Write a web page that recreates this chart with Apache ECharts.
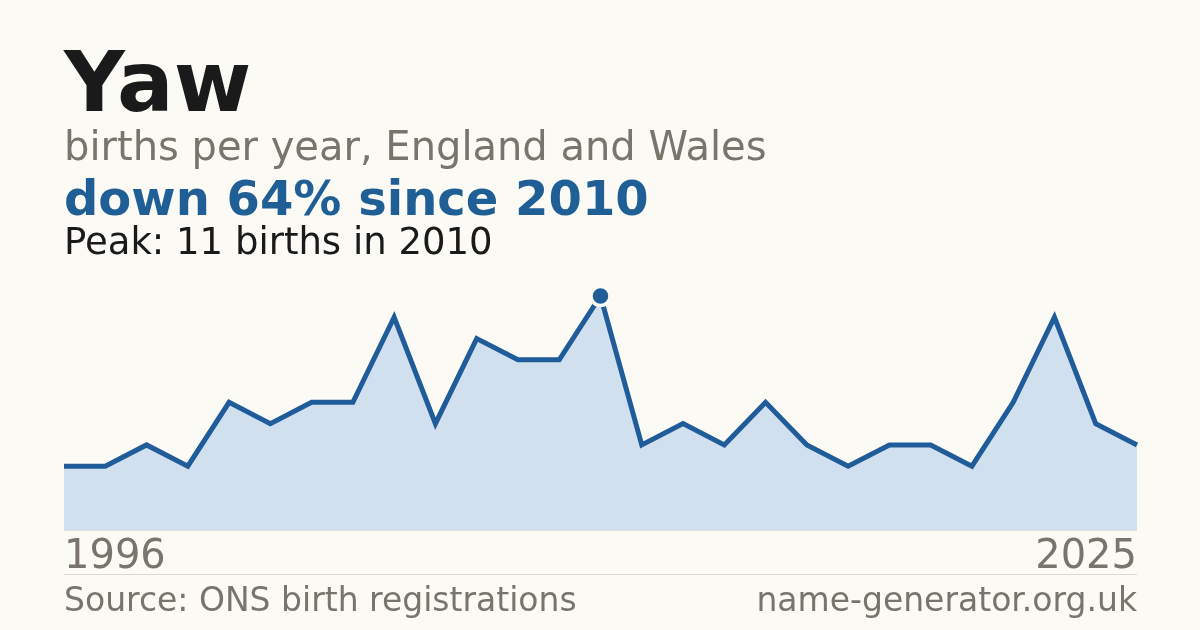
<!DOCTYPE html>
<html>
<head>
<meta charset="utf-8">
<script src="https://cdn.jsdelivr.net/npm/echarts@6/dist/echarts.min.js"></script>
<style>
  html, body { margin: 0; padding: 0; background: #fbfaf5; }
  #chart { width: 1200px; height: 630px; }
</style>
</head>
<body>
<div id="chart"></div>
<script>
const years = ['1996', '1997', '1998', '1999', '2000', '2001', '2003', '2004', '2005', '2006', '2007', '2008', '2009',
  '2010', '2011', '2012', '2014', '2015', '2016', '2017', '2018', '2020', '2021', '2022', '2023', '2024', '2025'];
const births = [3, 3, 4, 3, 6, 5, 6, 6, 10, 5, 9, 8, 8, 11, 4, 5, 4, 6, 4, 3, 4, 4, 3, 6, 10, 5, 4];
const titleText = 'Yaw';
const subtitleText = 'births per year, England and Wales';
const changeText = 'down 64% since 2010';
const peakText = 'Peak: 11 births in 2010';
const sourceText = 'Source: ONS birth registrations';
const siteText = 'name-generator.org.uk';

const FONT = '"DejaVu Sans", sans-serif';
const peakIdx = births.indexOf(Math.max(...births));
const lastIdx = years.length - 1;

const chart = echarts.init(document.getElementById('chart'), null, { renderer: 'canvas' });

function txt(x, y, text, size, color, weight, align) {
  return {
    type: 'text',
    x,
    y,
    style: {
      text,
      font: `${weight || 'normal'} ${size}px ${FONT}`,
      fill: color,
      textAlign: align || 'left',
      textVerticalAlign: 'bottom',
    },
  };
}

chart.setOption({
  backgroundColor: '#fbfaf5',
  animation: false,
  grid: { left: 64, right: 63, top: 296, bottom: 100 },
  xAxis: {
    type: 'category',
    data: years,
    boundaryGap: false,
    axisLine: { show: true, lineStyle: { color: '#e2ddd3', width: 1 } },
    axisTick: { show: false },
    axisLabel: {
      interval: (i) => i === 0 || i === lastIdx,
      alignMinLabel: 'left',
      alignMaxLabel: 'right',
      margin: 8,
      fontFamily: FONT,
      fontSize: 40,
      color: '#79756d',
    },
  },
  yAxis: {
    type: 'value',
    min: 0,
    max: 11,
    show: false,
    splitLine: { show: false },
  },
  series: [
    {
      type: 'line',
      data: births,
      symbol: 'none',
      lineStyle: { color: '#1f5c99', width: 5, join: 'miter' },
      areaStyle: { color: '#d0e0ef', opacity: 1 },
      z: 2,
    },
    {
      type: 'scatter',
      data: [[peakIdx, births[peakIdx]]],
      symbol: 'circle',
      symbolSize: 19,
      clip: false,
      itemStyle: { color: '#1f5c99', borderColor: '#fbfaf5', borderWidth: 3.5, opacity: 1 },
      z: 3,
    },
  ],
  graphic: [
    txt(64, 131, titleText, 84, '#1a1a1a', 'bold'),
    txt(64, 170, subtitleText, 40, '#79756d'),
    txt(64, 227, changeText, 48, '#1f5f96', 'bold'),
    txt(64, 263, peakText, 37, '#1a1a1a'),
    {
      type: 'line',
      shape: { x1: 64, y1: 574.5, x2: 1137, y2: 574.5 },
      style: { stroke: '#dcd8d0', lineWidth: 1 },
    },
    txt(64, 619, sourceText, 33, '#79756d'),
    txt(1137, 619, siteText, 33, '#79756d', 'normal', 'right'),
  ],
});
</script>
</body>
</html>
